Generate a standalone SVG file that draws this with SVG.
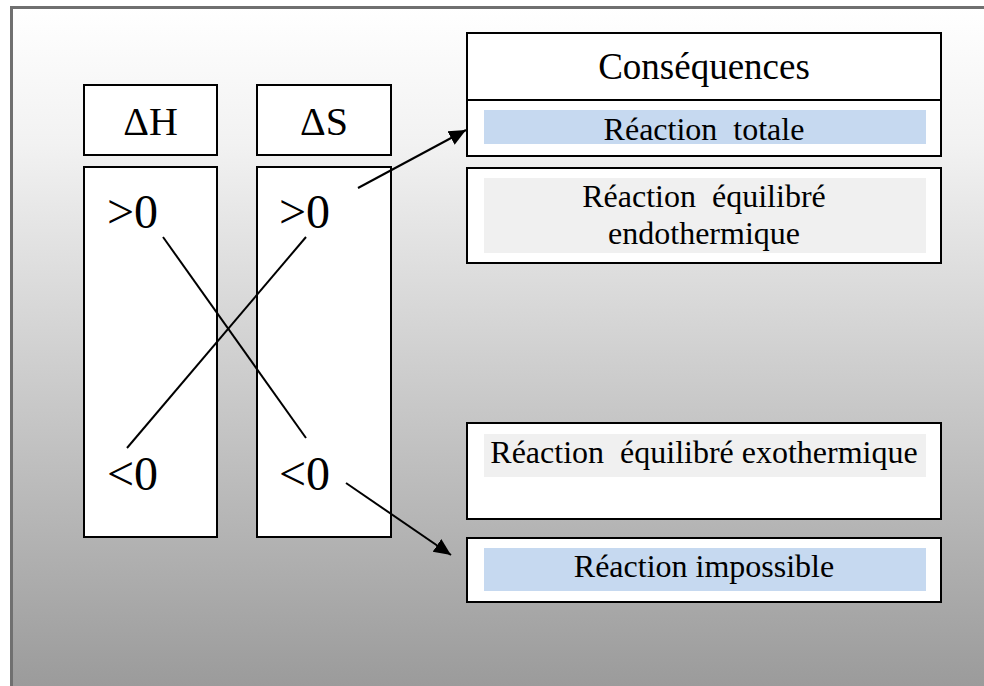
<svg xmlns="http://www.w3.org/2000/svg" width="984" height="686" viewBox="0 0 984 686">
<defs>
<linearGradient id="bg" gradientUnits="userSpaceOnUse" x1="0" y1="7" x2="0" y2="686">
<stop offset="0" stop-color="#ffffff"/>
<stop offset="0.2" stop-color="#f2f2f2"/>
<stop offset="1" stop-color="#9b9b9b"/>
</linearGradient>
<marker id="ah" viewBox="0 0 10 10" refX="10" refY="5" markerWidth="17" markerHeight="17" markerUnits="userSpaceOnUse" orient="auto">
<path d="M0,0.5 L10,5 L0,9.5 z" fill="#000"/>
</marker>
<style>
.box{fill:#fff;stroke:#000;stroke-width:2}
.t{font-family:'Liberation Serif','Tinos','DejaVu Serif','Noto Serif',serif;fill:#000;white-space:pre}
.c{text-anchor:middle}
.s32{font-size:32px}
.blue{fill:#c6d9f0}
.grey{fill:#f0f0f0}
.ln{stroke:#000;stroke-width:2;fill:none}
</style>
</defs>
<rect x="0" y="0" width="984" height="686" fill="#ffffff"/>
<rect x="11.5" y="7.5" width="990" height="700" fill="url(#bg)" stroke="#707070" stroke-width="3"/>

<g id="dH-header">
<rect class="box" x="84" y="85" width="133" height="70"/>
<text class="t c" x="150.5" y="135" font-size="40" font-family="Liberation Serif, serif">ΔH</text>
</g>
<g id="dS-header">
<rect class="box" x="257" y="85" width="134" height="70"/>
<text class="t c" x="324" y="135" font-size="40" font-family="Liberation Serif, serif">ΔS</text>
</g>
<g id="dH-body">
<rect class="box" x="84" y="167" width="133" height="370"/>
<text class="t" x="107" y="228" font-size="48" font-family="Liberation Serif, serif">&gt;0</text>
<text class="t" x="107" y="490" font-size="48" font-family="Liberation Serif, serif">&lt;0</text>
</g>
<g id="dS-body">
<rect class="box" x="257" y="167" width="134" height="370"/>
<text class="t" x="279" y="228" font-size="48" font-family="Liberation Serif, serif">&gt;0</text>
<text class="t" x="279" y="490" font-size="48" font-family="Liberation Serif, serif">&lt;0</text>
</g>

<g id="consequences" font-family="Liberation Serif, serif">
<rect class="box" x="467" y="33" width="474" height="123"/>
<line class="ln" x1="467" y1="100" x2="941" y2="100"/>
<text class="t c" x="704" y="79" font-size="37">Conséquences</text>
<rect class="blue" x="484" y="110" width="442" height="34"/>
<text class="t c s32" x="704" y="140">Réaction  totale</text>
</g>
<g id="endo" font-family="Liberation Serif, serif">
<rect class="box" x="467" y="168" width="474" height="95"/>
<rect class="grey" x="484" y="178" width="442" height="75"/>
<text class="t c s32" x="704" y="207">Réaction  équilibré</text>
<text class="t c s32" x="704" y="244">endothermique</text>
</g>
<g id="exo" font-family="Liberation Serif, serif">
<rect class="box" x="467" y="423" width="474" height="96"/>
<rect class="grey" x="484" y="434" width="442" height="43"/>
<text class="t c s32" x="704" y="463">Réaction  équilibré exothermique</text>
</g>
<g id="impossible" font-family="Liberation Serif, serif">
<rect class="box" x="467" y="538" width="474" height="64"/>
<rect class="blue" x="484" y="548" width="442" height="43"/>
<text class="t c s32" x="704" y="577">Réaction impossible</text>
</g>

<g id="connectors">
<line class="ln" x1="163" y1="237" x2="306" y2="438" stroke-width="1.6"/>
<line class="ln" x1="127" y1="448" x2="306" y2="237" stroke-width="1.6"/>
<line class="ln" x1="358" y1="188" x2="466" y2="130" stroke-width="2.5" marker-end="url(#ah)"/>
<line class="ln" x1="346" y1="483" x2="451" y2="555" stroke-width="2.5" marker-end="url(#ah)"/>
</g>
</svg>
